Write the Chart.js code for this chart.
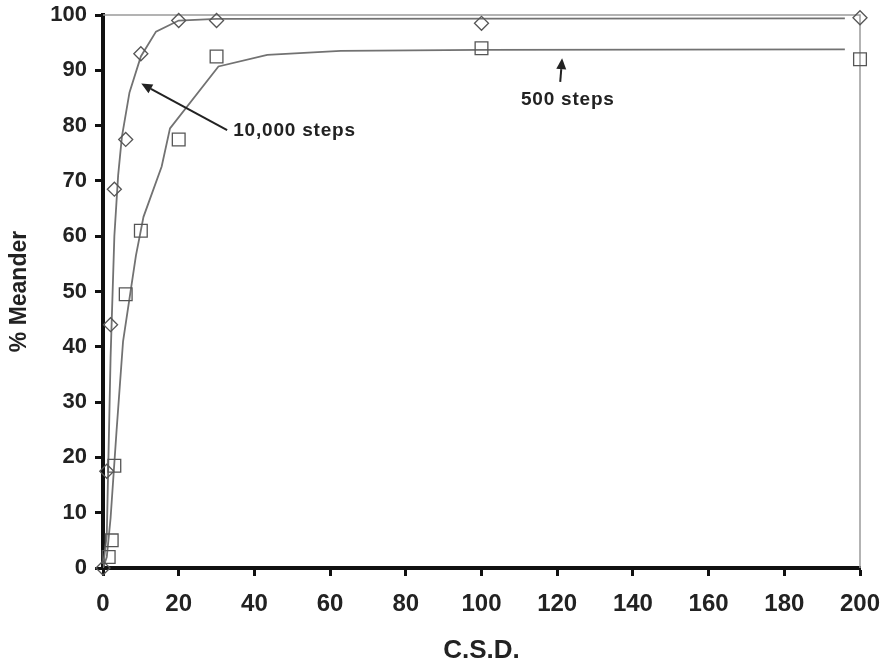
<!DOCTYPE html>
<html>
<head>
<meta charset="utf-8">
<script src="https://cdn.jsdelivr.net/npm/chart.js@4/dist/chart.umd.min.js"></script>
<style>
    html, body { margin: 0; padding: 0; background: #fff; }
    #wrap { width: 882px; height: 666px; }
</style>
</head>
<body>
<div id="wrap"><canvas id="meanderChart"></canvas></div>
<script>
// measured points
const steps10kX = [0, 1, 2, 3, 6, 10, 20, 30, 100, 200];
const steps10kY = [0, 17.5, 44, 68.5, 77.5, 93, 99, 99, 98.5, 99.5];
const steps500X = [1.5, 2.3, 3, 6, 10, 20, 30, 100, 200];
const steps500Y = [2, 5, 18.5, 49.5, 61, 77.5, 92.5, 94, 92];

// fitted curves
const fit10kX = [0, 1, 2, 3, 4, 5, 7, 10, 14, 20, 30, 196];
const fit10kY = [0, 6, 38, 60, 71, 78, 86, 92.5, 97, 99, 99.3, 99.4];
const fit500X = [0, 1, 2, 3.6, 5.3, 8.7, 10.7, 15.5, 17.7, 30.5, 43.4, 62.8, 100, 196];
const fit500Y = [0, 2, 9, 25, 41, 56.5, 63.5, 72.6, 79.5, 90.7, 92.8, 93.5, 93.7, 93.8];

// labels with arrows: [text, textX, textY, tailX, tailY, headX, headY]
const notes = [
    ['10,000 steps', 34.4, 79, 32.8, 79.2, 10.1, 87.6],
    ['500 steps', 122.8, 84.6, 120.8, 87.9, 121.3, 92.2]
];

const pairs = (xs, ys) => xs.map((x, i) => ({ x: x, y: ys[i] }));

const frame = {
    id: 'frame',
    beforeDatasetsDraw(chart) {
        const { ctx, chartArea: a } = chart;
        ctx.save();
        ctx.strokeStyle = '#9a9a9a';
        ctx.lineWidth = 1.5;
        ctx.beginPath();
        ctx.moveTo(a.left, a.top);
        ctx.lineTo(a.right, a.top);
        ctx.lineTo(a.right, a.bottom);
        ctx.stroke();
        ctx.restore();
    }
};

const arrows = {
    id: 'arrows',
    afterDatasetsDraw(chart) {
        const { ctx, scales: { x, y } } = chart;
        ctx.save();
        ctx.strokeStyle = '#222';
        ctx.fillStyle = '#222';
        ctx.lineWidth = 2;
        notes.forEach(n => {
            const tx = x.getPixelForValue(n[3]), ty = y.getPixelForValue(n[4]);
            const hx = x.getPixelForValue(n[5]), hy = y.getPixelForValue(n[6]);
            const ang = Math.atan2(hy - ty, hx - tx);
            const len = 11, wid = 5;
            const bx = hx - Math.cos(ang) * len, by = hy - Math.sin(ang) * len;
            ctx.beginPath();
            ctx.moveTo(tx, ty);
            ctx.lineTo(bx, by);
            ctx.stroke();
            ctx.beginPath();
            ctx.moveTo(hx, hy);
            ctx.lineTo(bx + Math.sin(ang) * wid, by - Math.cos(ang) * wid);
            ctx.lineTo(bx - Math.sin(ang) * wid, by + Math.cos(ang) * wid);
            ctx.closePath();
            ctx.fill();

            ctx.font = 'bold 19px "Liberation Sans", Arial, sans-serif';
            ctx.letterSpacing = '0.8px';
            ctx.textBaseline = 'middle';
            ctx.textAlign = n[0] === '500 steps' ? 'center' : 'left';
            ctx.fillText(n[0], x.getPixelForValue(n[1]), y.getPixelForValue(n[2]));
        });
        ctx.restore();
    }
};

new Chart(document.getElementById('meanderChart'), {
    type: 'scatter',
    data: {
        datasets: [{
            data: pairs(fit10kX, fit10kY),
            showLine: true,
            borderColor: '#727272',
            borderWidth: 1.8,
            pointRadius: 0,
            order: 2
        }, {
            data: pairs(fit500X, fit500Y),
            showLine: true,
            borderColor: '#727272',
            borderWidth: 1.8,
            pointRadius: 0,
            order: 2
        }, {
            data: pairs(steps10kX, steps10kY),
            pointStyle: 'rectRot',
            pointRadius: 7,
            pointBorderWidth: 1.3,
            pointBorderColor: '#555',
            pointBackgroundColor: 'rgba(255,255,255,0)',
            clip: false,
            order: 1
        }, {
            data: pairs(steps500X, steps500Y),
            pointStyle: 'rect',
            pointRadius: 9,
            pointBorderWidth: 1.3,
            pointBorderColor: '#555',
            pointBackgroundColor: 'rgba(255,255,255,0)',
            clip: false,
            order: 1
        }]
    },
    options: {
        responsive: true,
        maintainAspectRatio: false,
        animation: false,
        layout: { padding: { left: 0, top: 15, right: 22, bottom: 0 } },
        plugins: {
            legend: { display: false },
            tooltip: { enabled: false }
        },
        scales: {
            x: {
                type: 'linear',
                min: 0,
                max: 200,
                afterFit: s => { s.height = 98; s.paddingLeft = 0; s.paddingRight = 0; },
                border: { color: '#111', width: 4 },
                grid: { drawOnChartArea: false, tickLength: 8, tickWidth: 3, tickColor: '#111' },
                ticks: {
                    stepSize: 20,
                    padding: 14,
                    color: '#222',
                    font: { family: '"Liberation Sans", Arial, sans-serif', size: 24, weight: 'bold' }
                },
                title: {
                    display: true,
                    text: 'C.S.D.',
                    color: '#222',
                    padding: { top: 0, bottom: 0 },
                    font: { family: '"Liberation Sans", Arial, sans-serif', size: 26, weight: 'bold' }
                }
            },
            y: {
                min: 0,
                max: 100,
                afterFit: s => { s.width = 103; s.paddingTop = 0; s.paddingBottom = 0; },
                border: { color: '#111', width: 4 },
                grid: { drawOnChartArea: false, tickLength: 8, tickWidth: 3, tickColor: '#111' },
                ticks: {
                    stepSize: 10,
                    padding: 8,
                    color: '#222',
                    font: { family: '"Liberation Sans", Arial, sans-serif', size: 22, weight: 'bold' }
                },
                title: {
                    display: true,
                    text: '% Meander',
                    color: '#222',
                    padding: { top: 6, bottom: 0 },
                    font: { family: '"Liberation Sans", Arial, sans-serif', size: 23, weight: 'bold' }
                }
            }
        }
    },
    plugins: [frame, arrows]
});
</script>
</body>
</html>
